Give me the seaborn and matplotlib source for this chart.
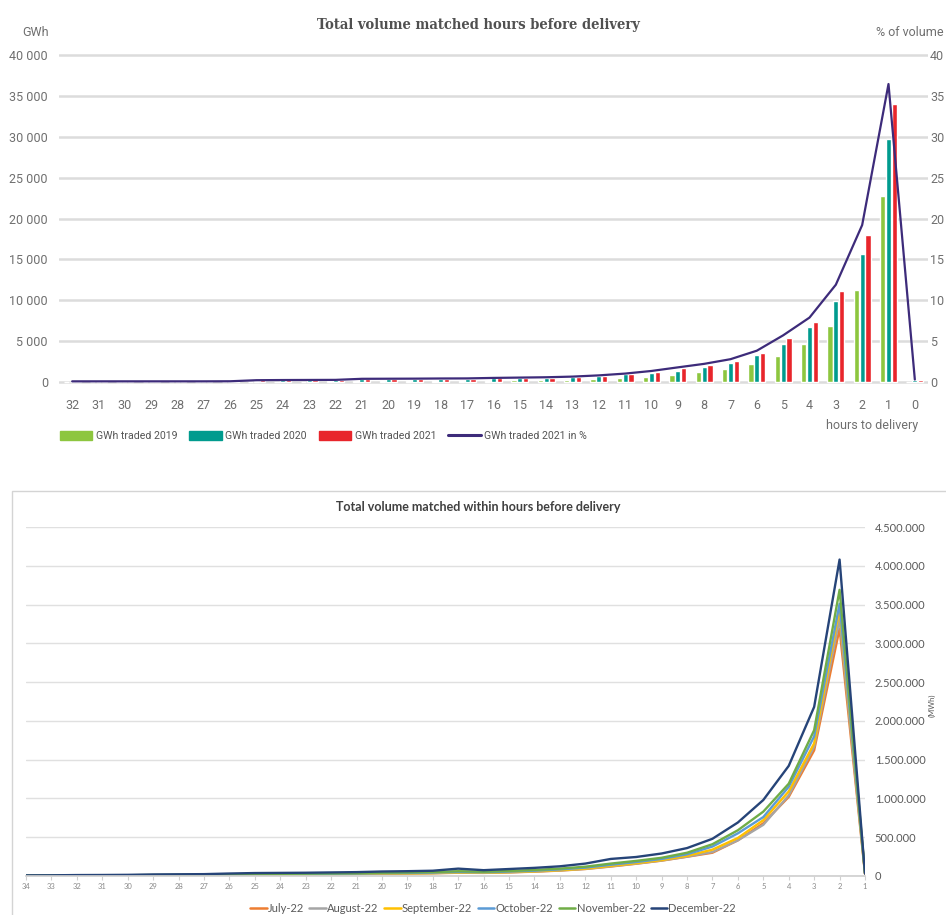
import numpy as np
import pandas as pd
import matplotlib
matplotlib.use("Agg")
import matplotlib.pyplot as plt
import seaborn as sns
from matplotlib.patches import Patch, Rectangle
from matplotlib.lines import Line2D

# ---- top chart: GWh traded per hour before delivery (hours 32 -> 0) ----
hours_top = ["32", "31", "30", "29", "28", "27", "26", "25", "24", "23", "22",
             "21", "20", "19", "18", "17", "16", "15", "14", "13", "12", "11",
             "10", "9", "8", "7", "6", "5", "4", "3", "2", "1", "0"]
gwh_2019 = [20, 20, 20, 20, 20, 20, 20, 60, 60, 60, 70, 110, 120, 130, 140, 140,
            180, 200, 220, 250, 330, 530, 650, 860, 1260, 1550, 2200, 3180, 4640,
            6840, 11240, 22730, 60]
gwh_2020 = [60, 60, 60, 60, 60, 60, 70, 170, 190, 200, 200, 330, 350, 360, 380, 380,
            450, 490, 520, 570, 730, 940, 1060, 1380, 1870, 2360, 3300, 4640, 6760,
            9900, 15600, 29780, 200]
gwh_2021 = [70, 70, 70, 70, 70, 70, 80, 200, 220, 230, 240, 360, 370, 380, 400, 410,
            470, 500, 540, 620, 760, 960, 1260, 1670, 2080, 2610, 3580, 5340, 7370,
            11120, 17960, 34060, 280]
pct_2021 = [0.08, 0.08, 0.08, 0.08, 0.08, 0.08, 0.09, 0.22, 0.24, 0.25, 0.26, 0.39,
            0.40, 0.41, 0.43, 0.44, 0.50, 0.54, 0.58, 0.66, 0.81, 1.03, 1.35, 1.79,
            2.22, 2.79, 3.83, 5.71, 7.88, 11.9, 19.2, 36.45, 0.3]
series_top = ["GWh traded 2019", "GWh traded 2020", "GWh traded 2021"]
line_label = "GWh traded 2021 in %"

# ---- bottom chart: MWh matched within hours before delivery (hours 34 -> 1) ----
hours_bot = [34, 33, 32, 31, 30, 29, 28, 27, 26, 25, 24, 23, 22, 21, 20, 19, 18,
             17, 16, 15, 14, 13, 12, 11, 10, 9, 8, 7, 6, 5, 4, 3, 2, 1]
july = [3000, 3000, 5000, 6000, 7000, 8000, 10000, 11000, 14000, 17000, 19000, 21000,
        23000, 26000, 30000, 33000, 36000, 42000, 40000, 47000, 56000, 70000, 90000,
        122000, 158000, 198000, 248000, 300000, 460000, 680000, 1020000, 1620000,
        3190000, 30000]
august = [3000, 4000, 5000, 6000, 7000, 8000, 10000, 12000, 15000, 18000, 20000, 22000,
          24000, 27000, 31000, 34000, 37000, 44000, 41000, 48000, 58000, 72000, 92000,
          125000, 160000, 200000, 250000, 310000, 460000, 660000, 1040000, 1670000,
          3320000, 35000]
september = [3000, 4000, 6000, 7000, 8000, 9000, 11000, 13000, 16000, 19000, 21000,
             23000, 25000, 28000, 32000, 35000, 38000, 45000, 42000, 50000, 60000, 75000,
             95000, 130000, 165000, 205000, 260000, 340000, 490000, 720000, 1090000,
             1710000, 3450000, 35000]
october = [4000, 5000, 7000, 8000, 9000, 11000, 13000, 15000, 19000, 22000, 24000,
           26000, 29000, 32000, 37000, 40000, 44000, 52000, 48000, 57000, 68000, 85000,
           108000, 145000, 180000, 220000, 280000, 380000, 550000, 760000, 1150000,
           1800000, 3510000, 40000]
november = [5000, 6000, 8000, 9000, 10000, 13000, 15000, 17000, 22000, 26000, 28000,
            30000, 33000, 36000, 42000, 45000, 50000, 62000, 55000, 65000, 78000, 95000,
            120000, 160000, 195000, 235000, 300000, 410000, 590000, 830000, 1190000,
            1880000, 3690000, 40000]
december = [8000, 9000, 12000, 13000, 15000, 20000, 22000, 24000, 32000, 38000, 40000,
            42000, 46000, 50000, 58000, 62000, 68000, 95000, 75000, 90000, 105000,
            125000, 160000, 220000, 245000, 290000, 360000, 480000, 690000, 980000,
            1420000, 2180000, 4080000, 30000]
months = ["July-22", "August-22", "September-22", "October-22", "November-22", "December-22"]

# couleurs
col_top = ["#8DC63F", "#009B8E", "#E8252B"]
col_line = "#3D2B7A"
col_bot = ["#ED7D31", "#A5A5A5", "#FFC000", "#5B9BD5", "#70AD47", "#264478"]
gris = "#6f6f6f"

sns.set_theme(style="white")
plt.rcParams['font.family'] = ['Roboto', 'DejaVu Sans']

W, H = 946, 915
fig = plt.figure(figsize=(W / 100, H / 100), dpi=100)
fig.patch.set_facecolor("white")


def box(l, t, r, b):
    return [l / W, 1 - b / H, (r - l) / W, (b - t) / H]


# ================= top chart =================
ax = fig.add_axes(box(59, 52, 928, 385))
df_top = pd.DataFrame({
    "hour": hours_top * 3,
    "gwh": gwh_2019 + gwh_2020 + gwh_2021,
    "serie": sum([[s] * len(hours_top) for s in series_top], []),
})
sns.barplot(data=df_top, x="hour", y="gwh", hue="serie", order=hours_top,
            hue_order=series_top, palette=col_top, saturation=1, width=0.66,
            gap=0.1, legend=False, ax=ax)
ax.set_ylim(-367, 40367)
yt = list(range(0, 40001, 5000))
ax.set_yticks(yt)
ax.set_yticklabels([f"{v:,}".replace(",", " ") for v in yt])
ax.grid(axis="y", color="#dcdcdc", lw=1.8)
ax.set_axisbelow(True)
ax.set_xlabel("")
ax.set_ylabel("")
ax.spines[["top", "right", "bottom", "left"]].set_visible(False)
ax.tick_params(axis="y", left=False, length=0, labelsize=9, labelcolor=gris, pad=8)
ax.tick_params(axis="x", bottom=False, length=0, labelsize=9, labelcolor=gris, pad=10)

ax2 = ax.twinx()
sns.lineplot(x=np.arange(len(pct_2021)), y=pct_2021, color=col_line, lw=1.6, ax=ax2)
ax2.set_ylim(-0.367, 40.367)
ax2.set_yticks(range(0, 41, 5))
ax2.spines[["top", "right", "bottom", "left"]].set_visible(False)
ax2.tick_params(axis="y", right=False, length=0, labelsize=9, labelcolor=gris, pad=1.5)
ax2.grid(False)
ax.set_xlim(-0.5, len(hours_top) - 0.5)

fig.text(478 / W, 1 - 25 / H, "Total volume matched hours before delivery",
         ha="center", va="center", fontsize=10.5, fontweight="bold",
         family=["DejaVu Serif"], fontstretch="condensed", color="#505050")
fig.text(36 / W, 1 - 33 / H, "GWh", ha="center", va="center", fontsize=9, color=gris)
fig.text(944 / W, 1 - 33 / H, "% of volume", ha="right", va="center", fontsize=9, color=gris)
fig.text(918 / W, 1 - 425 / H, "hours to delivery", ha="right", va="center",
         fontsize=9, color=gris)

handles = [Patch(color=c) for c in col_top] + [Line2D([], [], color=col_line, lw=2.2)]
fig.legend(handles, series_top + [line_label], loc="center left",
           bbox_to_anchor=(50 / W, 1 - 436 / H), ncol=4, frameon=False, fontsize=7.6,
           handlelength=3.1, handleheight=0.9, handletextpad=0.35, columnspacing=1.1,
           labelcolor="#555555")

# ================= bottom chart =================
fig.add_artist(Rectangle((12 / W, -0.01), 1, 1 - 491 / H + 0.01, transform=fig.transFigure,
                         fill=False, ec="#d4d4d4", lw=1))

ax3 = fig.add_axes(box(26, 527, 865, 876))
df_bot = pd.DataFrame({
    "hour": hours_bot * 6,
    "mwh": july + august + september + october + november + december,
    "month": sum([[m] * len(hours_bot) for m in months], []),
})
sns.lineplot(data=df_bot, x="hour", y="mwh", hue="month", hue_order=months,
             palette=col_bot, lw=1.7, legend=False, ax=ax3)
ax3.set_xlim(34, 1)
ax3.set_xticks(hours_bot)
ax3.set_xticklabels([str(h) for h in hours_bot])
ax3.set_ylim(0, 4500000)
yt3 = list(range(0, 4500001, 500000))
ax3.set_yticks(yt3)
ax3.set_yticklabels([f"{v:,}".replace(",", ".") for v in yt3])
ax3.yaxis.tick_right()
ax3.set_xlabel("")
ax3.set_ylabel("")
ax3.grid(axis="y", color="#e0e0e0", lw=1)
ax3.set_axisbelow(True)
ax3.spines[["top", "right", "left"]].set_visible(False)
ax3.spines["bottom"].set_color("#d0d0d0")
ax3.tick_params(axis="y", right=False, length=0, labelsize=8, labelcolor="#595959", pad=7)
ax3.tick_params(axis="x", bottom=True, length=3, width=0.8, color="#d0d0d0",
                labelsize=5.5, labelcolor="#8a8a8a", pad=2)
for t in ax3.get_xticklabels() + ax3.get_yticklabels():
    t.set_family(["Lato", "DejaVu Sans"])

fig.text(478 / W, 1 - 507 / H, "Total volume matched within hours before delivery",
         ha="center", va="center", fontsize=9, fontweight="bold",
         family=["Lato", "DejaVu Sans"], color="#404040")
fig.text(932 / W, 1 - 705 / H, "(MWh)", ha="center", va="center", rotation=90,
         fontsize=5.5, family=["Lato", "DejaVu Sans"], color="#595959")

handles_b = [Line2D([], [], color=c, lw=1.8) for c in col_bot]
fig.legend(handles_b, months, loc="center", bbox_to_anchor=(493 / W, 1 - 908 / H),
           ncol=6, frameon=False, handlelength=1.5, handletextpad=0.1,
           columnspacing=0.5, labelcolor="#595959",
           prop={"family": ["Lato", "DejaVu Sans"], "size": 8})

fig.savefig("out.png", dpi=100)
